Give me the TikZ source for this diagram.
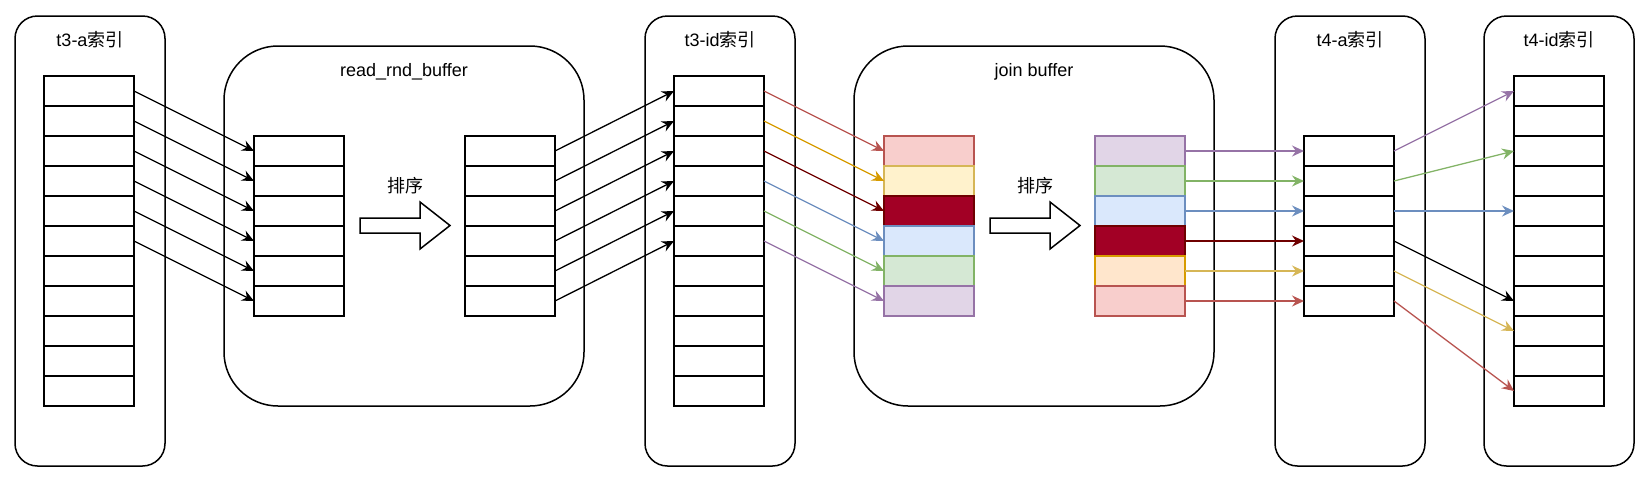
\documentclass[tikz,border=0pt]{standalone}
\usepackage{fontspec}
\setmainfont{Liberation Sans}
\newfontfamily\cjk{Noto Sans CJK SC}
\usetikzlibrary{arrows.meta}
\definecolor{redF}{HTML}{F8CECC}\definecolor{redS}{HTML}{B85450}
\definecolor{yelF}{HTML}{FFF2CC}\definecolor{yelS}{HTML}{D6B656}
\definecolor{oraF}{HTML}{FFE6CC}\definecolor{oraS}{HTML}{D79B00}
\definecolor{drkF}{HTML}{A20025}\definecolor{drkS}{HTML}{6F0000}
\definecolor{bluF}{HTML}{DAE8FC}\definecolor{bluS}{HTML}{6C8EBF}
\definecolor{grnF}{HTML}{D5E8D4}\definecolor{grnS}{HTML}{82B366}
\definecolor{purF}{HTML}{E1D5E7}\definecolor{purS}{HTML}{9673A6}
\begin{document}
\begin{tikzpicture}[x=1pt,y=-1pt,
  idxbox/.style={draw,line width=1.5pt,rounded corners=22.5pt,minimum width=150pt,minimum height=450pt,inner sep=0pt},
  bufbox/.style={draw,line width=1.5pt,rounded corners=54pt,minimum width=360pt,minimum height=360pt,inner sep=0pt},
  title/.style={anchor=base,inner sep=0pt,font=\fontsize{18}{20}\selectfont},
  cell/.style={draw,line width=1.5pt,minimum width=90pt,minimum height=30pt,inner sep=0pt,outer sep=0pt},
  arr/.style={line width=1.3pt,-{Stealth[length=12pt,width=11pt,inset=4pt]}},
  sortarrow/.style={draw,line width=1.5pt,line join=miter,fill=white}
]
\useasboundingbox (0,0) rectangle (1652,480);
% containers
\node[idxbox] (T3A) at (90,241) {};
\node[bufbox] (RRB) at (404,226) {};
\node[idxbox] (T3ID) at (720,241) {};
\node[bufbox] (JB) at (1034,226) {};
\node[idxbox] (T4A) at (1350,241) {};
\node[idxbox] (T4ID) at (1559,241) {};
% titles
\node[title] (T3At) at (90,46.5) {t3-a{\cjk 索引}};
\node[title] (RRBt) at (404,76.5) {read\_rnd\_buffer};
\node[title] (T3IDt) at (720,46.5) {t3-id{\cjk 索引}};
\node[title] (JBt) at (1034,76.5) {join buffer};
\node[title] (T4At) at (1350,46.5) {t4-a{\cjk 索引}};
\node[title] (T4IDt) at (1559,46.5) {t4-id{\cjk 索引}};
% sort arrows and labels
\foreach \x in {360,990}{
  \draw[sortarrow] (\x,218) -- (\x+60,218) -- (\x+60,202) -- (\x+90,225.5) -- (\x+60,249) -- (\x+60,233) -- (\x,233) -- cycle;
}
\node[title,anchor=center] (S1) at (405,186) {\cjk 排序};
\node[title,anchor=center] (S2) at (1035,186) {\cjk 排序};
% cells
\foreach \i in {0,...,10}{
  \node[cell] (A\i) at (89,{91+30*\i}) {};
  \node[cell] (D\i) at (719,{91+30*\i}) {};
  \node[cell] (G\i) at (1559,{91+30*\i}) {};
}
\foreach \i in {0,...,5}{
  \node[cell] (B\i) at (299,{151+30*\i}) {};
  \node[cell] (C\i) at (510,{151+30*\i}) {};
  \node[cell] (F\i) at (1349,{151+30*\i}) {};
}
\foreach \i/\f/\s in {0/redF/redS,1/yelF/yelS,2/drkF/drkS,3/bluF/bluS,4/grnF/grnS,5/purF/purS}{
  \node[cell,fill=\f,draw=\s] (E\i) at (929,{151+30*\i}) {};
}
\foreach \i/\f/\s in {0/purF/purS,1/grnF/grnS,2/bluF/bluS,3/drkF/drkS,4/oraF/oraS,5/redF/redS}{
  \node[cell,fill=\f,draw=\s] (H\i) at (1140,{151+30*\i}) {};
}
% connectors
\foreach \i in {0,...,5}{
  \draw[arr] (A\i.east) -- (B\i.west);
  \draw[arr] (C\i.east) -- (D\i.west);
}
\foreach \i/\c in {0/redS,1/oraS,2/drkS,3/bluS,4/grnS,5/purS}{
  \draw[arr,color=\c] (D\i.east) -- (E\i.west);
}
\foreach \i/\c in {0/purS,1/grnS,2/bluS,3/drkS,4/yelS,5/redS}{
  \draw[arr,color=\c] (H\i.east) -- (F\i.west);
}
\foreach \i/\j/\c in {0/0/purS,1/2/grnS,2/4/bluS,3/7/black,4/8/yelS,5/10/redS}{
  \draw[arr,color=\c] (F\i.east) -- (G\j.west);
}
\end{tikzpicture}
\end{document}
